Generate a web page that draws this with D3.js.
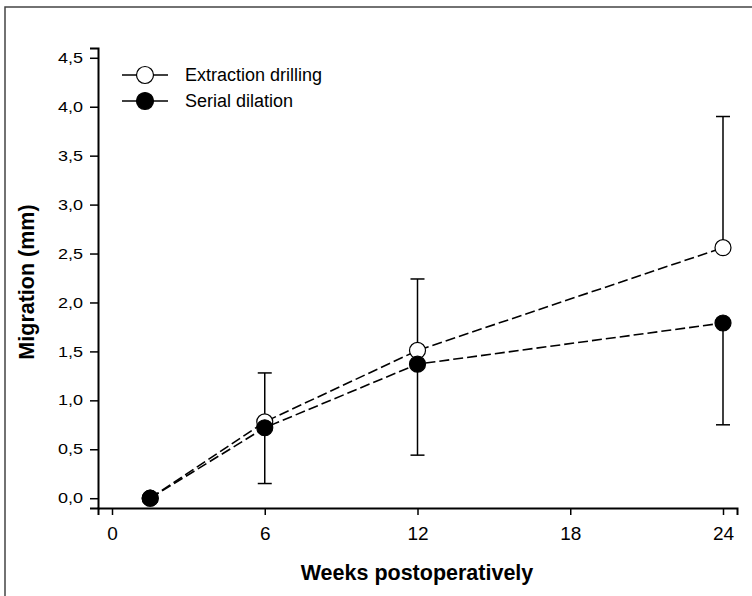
<!DOCTYPE html>
<html>
<head>
<meta charset="utf-8">
<script src="https://cdn.jsdelivr.net/npm/d3@7"></script>
<style>
  body { margin: 0; background: #fff; }
  svg { font-family: "Liberation Sans", Arial, sans-serif; }
</style>
</head>
<body>
<svg id="chart" width="752" height="596"></svg>
<script>
// weeks postoperatively
var weeks = [1.5, 6, 12, 24]
// extraction drilling: mean migration (mm) and upper error
var extractionMean = [0, 0.78, 1.51, 2.56]
var extractionErr = [0, 0.50, 0.73, 1.34]
// serial dilation: mean migration (mm) and lower error
var serialMean = [0, 0.72, 1.37, 1.79]
var serialErr = [0, 0.57, 0.93, 1.04]

var xTicks = [0, 6, 12, 18, 24]
var yTicks = [0, 0.5, 1, 1.5, 2, 2.5, 3, 3.5, 4, 4.5]
var seriesNames = ["Extraction drilling", "Serial dilation"]

var svg = d3.select("#chart")

// frame (top and left edge only, like the cropped figure)
svg.append("path")
    .attr("d", "M5,596 L5,7 L752,7")
    .attr("fill", "none")
    .attr("stroke", "#444")
    .attr("stroke-width", 1.5)

var xScale = d3.scaleLinear().domain([-0.55, 24.55]).range([98, 737])
var yScale = d3.scaleLinear().domain([-0.1, 4.6]).range([508, 48])

var fmt = d => d3.format(".1f")(d).replace(".", ",")

var xAxis = svg.append("g")
    .attr("transform", "translate(0,508)")
    .call(d3.axisBottom(xScale).tickValues(xTicks).tickSizeOuter(0).tickSize(7).tickPadding(12))
xAxis.select(".domain").attr("stroke-width", 2)
xAxis.selectAll(".tick line").attr("stroke-width", 1.5)
xAxis.selectAll(".tick text")
    .attr("font-family", "Liberation Sans, Arial, sans-serif")
    .attr("font-size", 19)
    .attr("fill", "#000")

var yAxis = svg.append("g")
    .attr("transform", "translate(98,0)")
    .call(d3.axisLeft(yScale).tickValues(yTicks).tickFormat(fmt).tickSizeOuter(0).tickSize(8).tickPadding(7))
yAxis.select(".domain").attr("stroke-width", 2)
yAxis.selectAll(".tick line").attr("stroke-width", 1.5)
// the y labels in the figure are wide and short, so squash them a bit
yAxis.selectAll(".tick text")
    .attr("font-family", "Liberation Sans, Arial, sans-serif")
    .attr("font-size", 18)
    .attr("fill", "#000")
    .attr("transform", "scale(1,0.8)")

// axis titles
svg.append("text")
    .attr("x", 417)
    .attr("y", 580)
    .attr("text-anchor", "middle")
    .attr("font-size", 21.5)
    .attr("font-weight", "bold")
    .text("Weeks postoperatively")

svg.append("text")
    .attr("transform", "translate(34,282) rotate(-90)")
    .attr("text-anchor", "middle")
    .attr("font-size", 21.5)
    .attr("font-weight", "bold")
    .text("Migration (mm)")

var series = [
    {name: seriesNames[0], mean: extractionMean, err: extractionErr, dir: 1, fill: "#fff"},
    {name: seriesNames[1], mean: serialMean, err: serialErr, dir: -1, fill: "#000"}
]

var line = d3.line()
    .x(d => xScale(d.week))
    .y(d => yScale(d.value))

series.forEach(function(s) {
    s.points = weeks.map((w, i) => ({week: w, value: s.mean[i], err: s.err[i]}))
})

// dashed connecting lines
series.forEach(function(s) {
    svg.append("path")
        .datum(s.points)
        .attr("fill", "none")
        .attr("stroke", "#000")
        .attr("stroke-width", 1.6)
        .attr("stroke-dasharray", "10,4")
        .attr("d", line)
})

// error bars (up for extraction drilling, down for serial dilation)
series.forEach(function(s) {
    var bars = svg.append("g").selectAll("g")
        .data(s.points.filter(p => p.err > 0)).enter()
        .append("g")
    bars.append("line")
        .attr("x1", d => xScale(d.week)).attr("x2", d => xScale(d.week))
        .attr("y1", d => yScale(d.value))
        .attr("y2", d => yScale(d.value + s.dir * d.err))
        .attr("stroke", "#000").attr("stroke-width", 1.5)
    bars.append("line")
        .attr("x1", d => xScale(d.week) - 7).attr("x2", d => xScale(d.week) + 7)
        .attr("y1", d => yScale(d.value + s.dir * d.err))
        .attr("y2", d => yScale(d.value + s.dir * d.err))
        .attr("stroke", "#000").attr("stroke-width", 1.5)
})

// markers
series.forEach(function(s) {
    svg.append("g").selectAll("circle")
        .data(s.points).enter()
        .append("circle")
        .attr("cx", d => xScale(d.week))
        .attr("cy", d => yScale(d.value))
        .attr("r", 8)
        .attr("fill", s.fill)
        .attr("stroke", "#000")
        .attr("stroke-width", 1.2)
})

// legend
var legend = svg.append("g").selectAll("g")
    .data(series).enter()
    .append("g")
    .attr("transform", (d, i) => "translate(0," + (75 + i * 26) + ")")
legend.append("line")
    .attr("x1", 122).attr("x2", 168)
    .attr("stroke", "#000").attr("stroke-width", 1.5)
legend.append("circle")
    .attr("cx", 145).attr("r", 8.5)
    .attr("fill", d => d.fill)
    .attr("stroke", "#000").attr("stroke-width", 1.2)
legend.append("text")
    .attr("x", 185).attr("dy", "0.35em")
    .attr("font-size", 18)
    .text(d => d.name)
</script>
</body>
</html>
